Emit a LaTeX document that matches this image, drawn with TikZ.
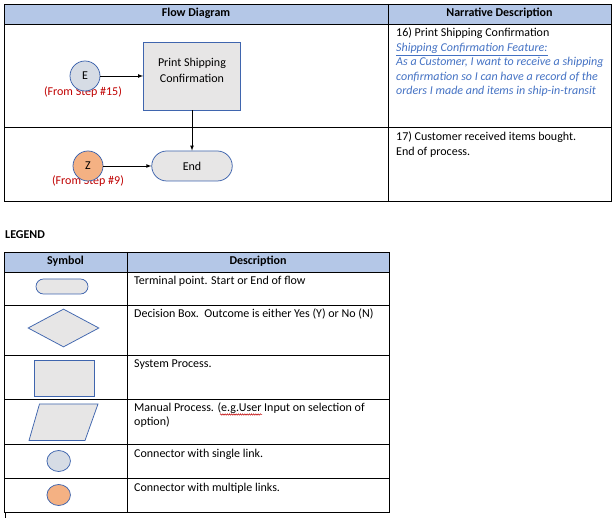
\documentclass[tikz,border=0pt]{standalone}
\usepackage{fontspec}
\setmainfont{Carlito}
\usepackage{tikz}
\usetikzlibrary{arrows, shapes.geometric, decorations.pathmorphing}

\definecolor{hdrblue}{HTML}{B4C7E7}
\definecolor{boxgray}{HTML}{E7E6E6}
\definecolor{rimblue}{HTML}{3F65AE}
\definecolor{onefill}{HTML}{D6DCE5}
\definecolor{manyfill}{HTML}{F4B183}
\definecolor{stepred}{HTML}{C00000}
\definecolor{storyblue}{HTML}{4472C4}

\tikzset{
    grid/.style={line width=0.8pt, black},
    txt/.style={anchor=base west, inner sep=0pt, font=\fontsize{12}{14.5}\selectfont},
    hd/.style={anchor=base, inner sep=0pt, font=\fontsize{12}{14.5}\selectfont\bfseries},
    prc/.style={rectangle, draw=rimblue, fill=boxgray, line width=0.75pt, inner sep=0pt},
    term/.style={rectangle, rounded corners=#1, draw=rimblue, fill=boxgray, line width=0.75pt, inner sep=0pt},
    con/.style={circle, draw=rimblue, line width=0.75pt, inner sep=0pt, font=\fontsize{12}{14}\selectfont},
    steplbl/.style={anchor=base, inner sep=0pt, text=stepred, font=\fontsize{12}{14}\selectfont},
}

\begin{document}
\begin{tikzpicture}[x=1pt, y=-1pt, >=latex]
    \useasboundingbox (0,0) rectangle (616,518);
    \fill[white] (0,0) rectangle (616,518);

    % Flow table
    \fill[hdrblue] (4,4) rectangle (611,24);
    \draw[grid] (4,4) rectangle (611,201);
    \draw[grid] (4,24) -- (611,24);
    \draw[grid] (4,127) -- (611,127);
    \draw[grid] (388,4) -- (388,201);
    \node[hd](hflow)  at (196,17)   {Flow Diagram};
    \node[hd](hstory) at (499.5,17) {Narrative Description};

    % Flow
    \node[steplbl](ln15) at (83,95.5)  {(From Step \#15)};
    \node[steplbl](ln9)  at (88,185)   {(From Step \#9)};
    \node[con, fill=onefill, minimum size=30pt](E)  at (85,76)  {E};
    \node[con, fill=manyfill, minimum size=30pt](Z) at (88,166) {Z};
    \node[prc, minimum width=97pt, minimum height=68pt, align=center, text depth=11.5pt,
          font=\fontsize{12}{16}\selectfont](prt) at (192,76)
          {Print Shipping\\Confirmation};
    \node[term=15pt, minimum width=80.5pt, minimum height=30pt,
          font=\fontsize{12}{14}\selectfont](fin) at (192,166) {End};
    % Transitions
    \path[line width=0.75pt]
        (E)
            edge [->] (prt)
        (prt)
            edge [->] (fin)
        (Z)
            edge [->] (fin)
        ;

    % Narrative
    \node[txt](s16a) at (396,37)    {16) Print Shipping Confirmation};
    \node[txt, text=storyblue](s16b) at (396,51.5)
        {\itshape\underline{Shipping Confirmation Feature:}};
    \node[txt, text=storyblue](s16c) at (396,66)
        {\itshape As a Customer, I want to receive a shipping};
    \node[txt, text=storyblue](s16d) at (396,80.5)
        {\itshape confirmation so I can have a record of the};
    \node[txt, text=storyblue](s16e) at (396,95)
        {\itshape orders I made and items in ship-in-transit};
    \node[txt](s17a) at (396,141)   {17) Customer received items bought.};
    \node[txt](s17b) at (396,155.5) {End of process.};

    % Legend
    \node[txt, font=\fontsize{12}{14}\selectfont\bfseries](lgd) at (5,239) {LEGEND};
    \fill[hdrblue] (4,252) rectangle (389,272);
    \draw[grid] (4,252) rectangle (389,512);
    \foreach \yy in {272,305,355,399,444,478}
        \draw[grid] (4,\yy) -- (389,\yy);
    \draw[grid] (127,252) -- (127,512);
    \node[hd](hsym)  at (65.5,265) {Symbol};
    \node[hd](hdesc) at (258,265)  {Description};

    \node[term=7.5pt, minimum width=52pt, minimum height=15pt](lterm) at (62,286.5) {};
    \node[diamond, draw=rimblue, fill=boxgray, line width=0.75pt, inner sep=0pt,
          minimum width=71pt, minimum height=38pt](ldec) at (63.5,328) {};
    \node[prc, minimum width=60.5pt, minimum height=36pt](lsys) at (64.5,378) {};
    \draw[draw=rimblue, fill=boxgray, line width=0.75pt]
        (39.5,404) -- (98,404) -- (85,440.5) -- (29,440.5) -- cycle;
    \node[ellipse, draw=rimblue, fill=onefill, line width=0.75pt, inner sep=0pt,
          minimum width=23.5pt, minimum height=21pt](lone) at (58.7,461) {};
    \node[ellipse, draw=rimblue, fill=manyfill, line width=0.75pt, inner sep=0pt,
          minimum width=23.5pt, minimum height=21pt](lmany) at (58.7,495) {};

    \node[txt](dterm) at (134,285) {Terminal point. Start or End of flow};
    \node[txt](ddec)  at (134,318) {Decision Box.\ \ Outcome is either Yes (Y) or No (N)};
    \node[txt](dsys)  at (134,368) {System Process.};
    \node[txt](dmana) at (134,412) {Manual Process. (e.g.User Input on selection of};
    \node[txt](dmanb) at (134,426) {option)};
    \node[txt](done)  at (134,457) {Connector with single link.};
    \node[txt](dmany) at (134,491) {Connector with multiple links.};
    \draw[stepred, line width=0.5pt, decorate,
          decoration={snake, segment length=2.2pt, amplitude=0.7pt}]
        (220,414.5) -- (262,414.5);

    \draw[line width=0.6pt] (5,513) -- (5,518);
\end{tikzpicture}
\end{document}
